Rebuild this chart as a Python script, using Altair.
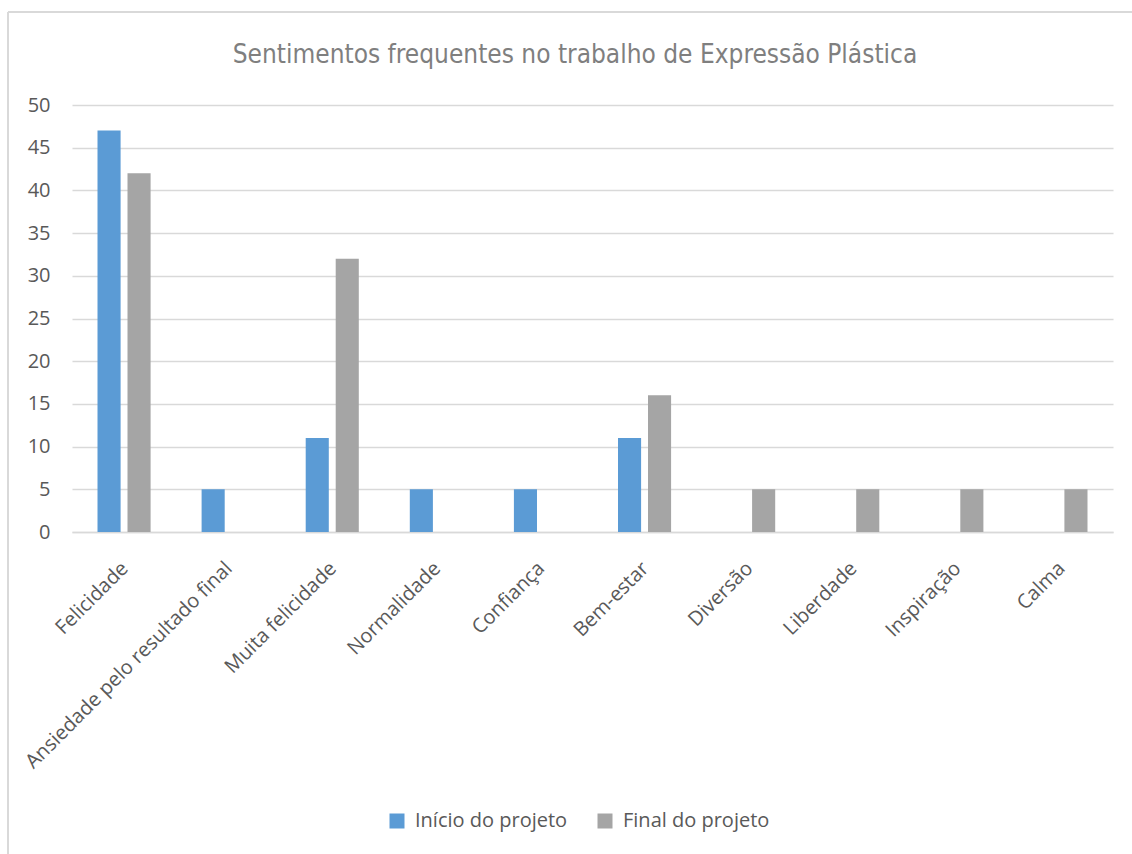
import altair as alt
import pandas as pd

# Feelings reported at the start and at the end of the project
categorias = [
    "Felicidade",
    "Ansiedade pelo resultado final",
    "Muita felicidade",
    "Normalidade",
    "Confiança",
    "Bem-estar",
    "Diversão",
    "Liberdade",
    "Inspiração",
    "Calma",
]
inicio = [47, 5, 11, 5, 5, 11, 0, 0, 0, 0]
final = [42, 0, 32, 0, 0, 16, 5, 5, 5, 5]
series = ["Início do projeto", "Final do projeto"]
cores = ["#5B9BD5", "#A5A5A5"]
y_ticks = [0, 5, 10, 15, 20, 25, 30, 35, 40, 45, 50]
titulo = "Sentimentos frequentes no trabalho de Expressão Plástica"

rows = []
for c, a, b in zip(categorias, inicio, final):
    rows.append({"Sentimento": c, "Momento": series[0], "Valor": a})
    rows.append({"Sentimento": c, "Momento": series[1], "Valor": b})
df = pd.DataFrame(rows)

W, H = 1041, 427
label_font = "Open Sans"
text_col = "#595959"
line_col = "#D9D9D9"

bars = alt.Chart(df).mark_bar().encode(
    x=alt.X(
        "Sentimento:N",
        sort=categorias,
        title=None,
        scale=alt.Scale(paddingInner=0.49, paddingOuter=0.245),
        axis=alt.Axis(
            labelAngle=-45,
            labelAlign="right",
            labelBaseline="middle",
            labelFont=label_font,
            labelFontSize=20,
            labelColor=text_col,
            labelPadding=33,
            labelOffset=1,
            ticks=False,
            domainColor=line_col,
            domainWidth=1.5,
            grid=False,
            labelLimit=400,
        ),
    ),
    xOffset=alt.XOffset(
        "Momento:N",
        sort=series,
        scale=alt.Scale(paddingInner=0.23, paddingOuter=0),
    ),
    y=alt.Y(
        "Valor:Q",
        title=None,
        scale=alt.Scale(domain=[0, 50], nice=False),
        axis=alt.Axis(
            values=y_ticks,
            labelFont=label_font,
            labelFontSize=20,
            labelColor=text_col,
            labelPadding=22,
            ticks=False,
            domain=False,
            gridColor=line_col,
            gridWidth=1.5,
        ),
    ),
    color=alt.Color(
        "Momento:N",
        sort=series,
        scale=alt.Scale(domain=series, range=cores),
        legend=alt.Legend(
            title=None,
            orient="none",
            legendX=315,
            legendY=706,
            direction="horizontal",
            symbolType="square",
            symbolSize=225,
            symbolStrokeWidth=0,
            symbolOpacity=1,
            labelFont=label_font,
            labelFontSize=20,
            labelColor=text_col,
            labelOffset=8,
            columnPadding=27,
        ),
    ),
)

# Chart heading, drawn as a text mark above the plot
heading = alt.Chart(pd.DataFrame({"t": [titulo]})).mark_text(
    font="Liberation Sans Narrow, DejaVu Sans Condensed, sans-serif",
    fontSize=26,
    color="#7F7F7F",
    align="center",
    baseline="middle",
).encode(text="t:N", x=alt.value(503), y=alt.value(-50))

# Thin frame around the chart area (top and left edges)
frame_top = alt.Chart(df).mark_rule(color=line_col, strokeWidth=1.5).encode(
    x=alt.value(-64), x2=alt.value(1100), y=alt.value(-93)
)
frame_left = alt.Chart(df).mark_rule(color=line_col, strokeWidth=1.5).encode(
    x=alt.value(-64), y=alt.value(-93), y2=alt.value(800)
)

chart = (
    alt.layer(bars, heading, frame_top, frame_left)
    .properties(
        width=W,
        height=H,
        autosize=alt.AutoSizeParams(type="none"),
        padding={"left": 72, "top": 105, "right": 19, "bottom": 322},
        view=alt.ViewBackground(stroke="transparent", strokeWidth=0),
    )
    .configure_view(strokeWidth=0, stroke="transparent")
    .configure(background="white")
)

chart.save("out.html", embed_options={"renderer": "svg", "actions": False})
